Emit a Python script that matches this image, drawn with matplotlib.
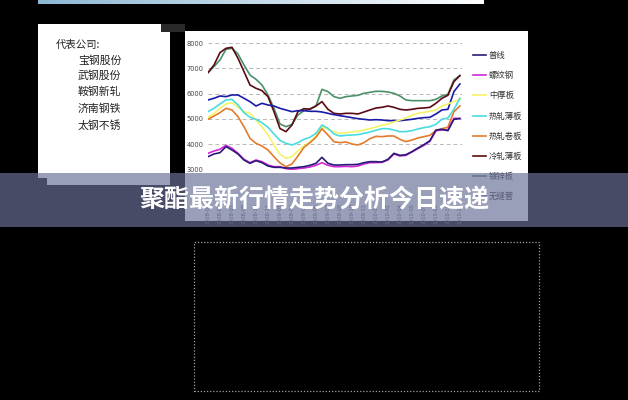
import numpy as np
import matplotlib
matplotlib.use("Agg")
import matplotlib.pyplot as plt
from matplotlib.patches import Rectangle

plt.rcParams['font.family'] = ['Noto Sans CJK SC', 'DejaVu Sans']

# ---------------- data ----------------
series_names = ['普线', '螺纹钢', '中厚板', '热轧薄板', '热轧卷板', '冷轧薄板', '镀锌板', '无缝管']
series_colors = ['#2a1a78', '#d228d8', '#f4f466', '#48dce2', '#e57a2a', '#5a0a14', '#4a9068', '#1a1aa8']

putong = [3507, 3613, 3665, 3903, 3771, 3613, 3375, 3244, 3349, 3270, 3138, 3086, 3086,
          3059, 3059, 3086, 3112, 3165, 3244, 3481, 3244, 3178, 3178, 3191, 3191, 3204, 3270, 3310, 3310,
          3296, 3402, 3639, 3560, 3586, 3705, 3850, 3982, 4140, 4561, 4588, 4535, 4984, 5010]
luowen = [3639, 3731, 3797, 3955, 3837, 3639, 3402, 3270, 3375, 3310, 3178, 3112, 3112,
          3033, 3007, 3033, 3059, 3099, 3165, 3270, 3165, 3112, 3112, 3125, 3112, 3138, 3217, 3270, 3270,
          3283, 3375, 3613, 3534, 3560, 3692, 3823, 3955, 4113, 4535, 4561, 4561, 5023, 5023]
zhonghou = [5063, 5220, 5418, 5590, 5642, 5458, 5286, 5220, 4957, 4693, 4364, 3969, 3600,
            3441, 3507, 3744, 3929, 4087, 4325, 4693, 4588, 4483, 4430, 4456, 4483, 4509, 4561, 4614, 4680,
            4746, 4799, 4878, 4957, 5036, 5141, 5220, 5260, 5300, 5352, 5510, 5590, 5682, 5774]
rezhabo = [5286, 5418, 5590, 5748, 5774, 5550, 5247, 5063, 4984, 4852, 4667, 4404, 4150,
           4034, 3969, 4061, 4193, 4272, 4430, 4760, 4628, 4404, 4324, 4351, 4364, 4377, 4430, 4483, 4550,
           4614, 4614, 4561, 4496, 4496, 4535, 4601, 4654, 4693, 4786, 4984, 5036, 5379, 5814]
rezhajuan = [4984, 5115, 5247, 5418, 5352, 5089, 4693, 4232, 4034, 3929, 3771, 3507, 3260,
             3112, 3217, 3534, 3876, 4061, 4272, 4614, 4364, 4100, 4061, 4087, 4008, 3969, 4061, 4219, 4310,
             4298, 4325, 4325, 4193, 4100, 4166, 4245, 4298, 4351, 4535, 4614, 4667, 5286, 5510]
lengzha = [6830, 7130, 7620, 7790, 7830, 7395, 6870, 6340, 6210, 6117, 5880, 5287, 4620,
           4496, 4759, 5286, 5405, 5379, 5510, 5682, 5379, 5220, 5194, 5220, 5220, 5194, 5273, 5352, 5430,
           5458, 5510, 5458, 5379, 5352, 5379, 5418, 5431, 5458, 5616, 5814, 5932, 6473, 6710]
duxin = [6830, 7065, 7330, 7750, 7790, 7565, 7130, 6735, 6565, 6340, 5945, 5420, 4800,
         4693, 4780, 5155, 5326, 5405, 5510, 6170, 6077, 5880, 5814, 5880, 5906, 5932, 6011, 6051, 6090,
         6090, 6064, 6011, 5906, 5748, 5721, 5721, 5721, 5721, 5774, 5906, 5972, 6539, 6710]
wufeng = [5748, 5814, 5906, 5880, 5946, 5946, 5814, 5682, 5510, 5616, 5550, 5510, 5418,
          5352, 5286, 5326, 5326, 5300, 5300, 5273, 5220, 5168, 5128, 5089, 5049, 5010, 4984, 4957, 4970,
          4957, 4931, 4931, 4931, 4957, 4984, 5023, 5049, 5063, 5194, 5352, 5379, 6077, 6380]

x_tick_labels = ['2008-04', '2008-05', '2008-07', '2008-08', '2008-10', '2008-11', '2009-01', '2009-02',
                 '2009-04', '2009-05', '2009-07', '2009-08', '2009-10', '2009-11', '2010-01', '2010-02',
                 '2010-04', '2010-05', '2010-07', '2010-08', '2010-10', '2010-11']
y_ticks = [3000, 4000, 5000, 6000, 7000, 8000]

company_title = '代表公司:'
companies = ['宝钢股份', '武钢股份', '鞍钢新轧', '济南钢铁', '太钢不锈']
banner_title = '聚酯最新行情走势分析今日速递'

all_series = [putong, luowen, zhonghou, rezhabo, rezhajuan, lengzha, duxin, wufeng]

# ---------------- figure ----------------
W, H = 628, 400
fig = plt.figure(figsize=(W / 100, H / 100), dpi=100, facecolor='black')


def fx(x):
    return x / W


def fy(y):
    return 1 - y / H


def prect(x0, y0, x1, y1, **kw):
    r = Rectangle((fx(x0), fy(y1)), (x1 - x0) / W, (y1 - y0) / H,
                  transform=fig.transFigure, **kw)
    fig.add_artist(r)
    return r


# top gradient strip
gax = fig.add_axes([fx(38), fy(4.5), (484 - 38) / W, 4.5 / H], zorder=-2)
grad = np.linspace(0, 1, 256)
c0 = np.array([0.55, 0.72, 0.83])
c1 = np.array([1.0, 1.0, 1.0])
img = (c0[None, :] * (1 - grad[:, None]) + c1[None, :] * grad[:, None])[None, :, :]
gax.imshow(img, aspect='auto', extent=[0, 1, 0, 1])
gax.axis('off')

# left white panel
prect(38, 24, 161, 33, facecolor='white', edgecolor='none', zorder=-1)
prect(161, 24, 185, 32, facecolor='#2a2a2a', edgecolor='none', zorder=-1)
prect(38, 32, 170, 178, facecolor='white', edgecolor='none', zorder=-1)
prect(47, 178, 170, 185, facecolor='white', edgecolor='none', zorder=-1)

# chart white panel
prect(185, 31, 528, 221, facecolor='white', edgecolor='none', zorder=-1)

# dotted rectangle below
prect(193.5, 242, 539, 391, facecolor='none', edgecolor='#a0a0a0', lw=0.9,
      linestyle=(0, (1, 1.5)), zorder=1)

# company text
fig.text(fx(56), fy(45), company_title, fontsize=7.5, color='#222222', va='center', ha='left')
for k, name in enumerate(companies):
    fig.text(fx(78), fy([61, 76, 92, 109, 126][k]), name, fontsize=7.8, color='#222222',
             va='center', ha='left')

# ---------------- chart ----------------
ax = fig.add_axes([fx(208), fy(169.5), (462 - 208) / W, (169.5 - 43) / H], zorder=0)
ax.set_facecolor('none')
xs = np.arange(len(putong))
lines = []
order = [6, 5, 7, 2, 3, 4, 1, 0]
for idx in order:
    ln, = ax.plot(xs, all_series[idx], color=series_colors[idx], lw=1.2,
                  label=series_names[idx], solid_joinstyle='round')
    lines.append((idx, ln))
lines.sort(key=lambda t: t[0])

ax.set_xlim(0, 42.35)
ax.set_ylim(3000, 8000)
ax.set_yticks(y_ticks)
ax.set_yticklabels([str(v) for v in y_ticks], fontsize=4.8, color='#444444',
                   family=['DejaVu Sans'])
ax.set_xticks(np.arange(0, 43, 2))
ax.set_xticklabels(x_tick_labels, rotation=90, fontsize=3.6, color='#555555',
                   family=['DejaVu Sans'])
ax.tick_params(axis='both', length=0)
ax.tick_params(axis='y', pad=3)
ax.tick_params(axis='x', pad=24)
for s in ax.spines.values():
    s.set_visible(False)
ax.grid(axis='y', color='#b8b8b8', linestyle=(0, (4, 3)), lw=0.7)
ax.set_axisbelow(True)

leg = ax.legend([l for _, l in lines], [series_names[i] for i, _ in lines],
                loc='upper left', bbox_to_anchor=(fx(473), fy(51)),
                bbox_transform=fig.transFigure, frameon=False, fontsize=6,
                handlelength=1.6, handletextpad=0.3, labelspacing=1.34,
                borderpad=0, borderaxespad=0)
for t in leg.get_texts():
    t.set_color('#333333')

# ---------------- banner ----------------
prect(0, 173, 628, 227, facecolor=(105 / 255, 112 / 255, 152 / 255), alpha=0.68,
      edgecolor='none', zorder=5)
fig.text(fx(314), fy(201), banner_title, fontsize=18, fontweight='bold', color='white',
         ha='center', va='center', zorder=6)

fig.savefig('out.png', dpi=100, facecolor='black')
